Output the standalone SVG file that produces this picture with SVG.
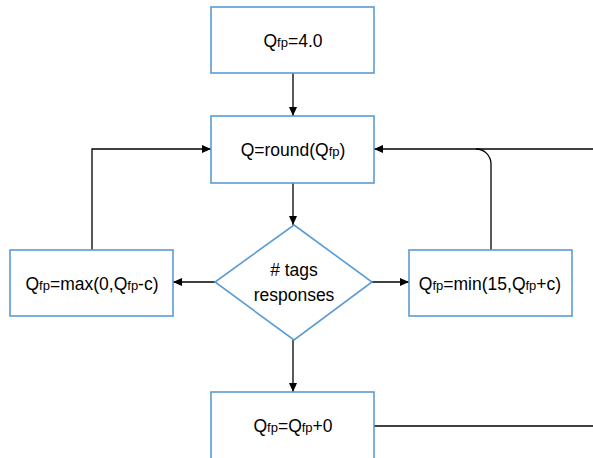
<svg xmlns="http://www.w3.org/2000/svg" width="593" height="458" viewBox="0 0 593 458">
<style>
.box{fill:#fff;stroke:#5B9BD5;stroke-width:1.6}
.ln{fill:none;stroke:#000;stroke-width:1.3}
text{font-family:"Liberation Sans",Arial,sans-serif;font-size:17.5px;fill:#000;text-anchor:middle}
.s{font-size:13px}
</style>
<defs>
<marker id="ah" markerWidth="10" markerHeight="10" refX="9" refY="5" orient="auto" markerUnits="userSpaceOnUse">
<path d="M0,1 L9,5 L0,9 Z" fill="#000"/>
</marker>
</defs>
<rect width="593" height="458" fill="#fff"/>
<g id="connectors">
<path class="ln" d="M293,73 V116" marker-end="url(#ah)"/>
<path class="ln" d="M293,183 V225" marker-end="url(#ah)"/>
<path class="ln" d="M215,282 H173" marker-end="url(#ah)"/>
<path class="ln" d="M372,282 H409" marker-end="url(#ah)"/>
<path class="ln" d="M293,340 V392" marker-end="url(#ah)"/>
<path class="ln" d="M92,250 V149 H211" marker-end="url(#ah)"/>
<path class="ln" d="M593,149 H374" marker-end="url(#ah)"/>
<path class="ln" d="M491,250 V164 A15,15 0 0 0 476,149"/>
<path class="ln" d="M374,426 H593"/>
</g>
<g id="n1">
<rect class="box" x="211" y="7" width="163" height="66"/>
<text x="293" y="47">Q<tspan class="s">fp</tspan>=4.0</text>
</g>
<g id="n2">
<rect class="box" x="211" y="116" width="163" height="67"/>
<text x="293" y="156">Q=round(Q<tspan class="s">fp</tspan>)</text>
</g>
<g id="n3">
<polygon class="box" points="294,225 372,282 294,340 215,282"/>
<text x="294" y="276"># tags</text>
<text x="294" y="301">responses</text>
</g>
<g id="n4">
<rect class="box" x="10" y="250" width="163" height="66"/>
<text x="92" y="290">Q<tspan class="s">fp</tspan>=max(0,Q<tspan class="s">fp</tspan>-c)</text>
</g>
<g id="n5">
<rect class="box" x="409" y="250" width="163" height="66"/>
<text x="490" y="290">Q<tspan class="s">fp</tspan>=min(15,Q<tspan class="s">fp</tspan>+c)</text>
</g>
<g id="n6">
<rect class="box" x="211" y="392" width="163" height="80"/>
<text x="293" y="432">Q<tspan class="s">fp</tspan>=Q<tspan class="s">fp</tspan>+0</text>
</g>
</svg>
